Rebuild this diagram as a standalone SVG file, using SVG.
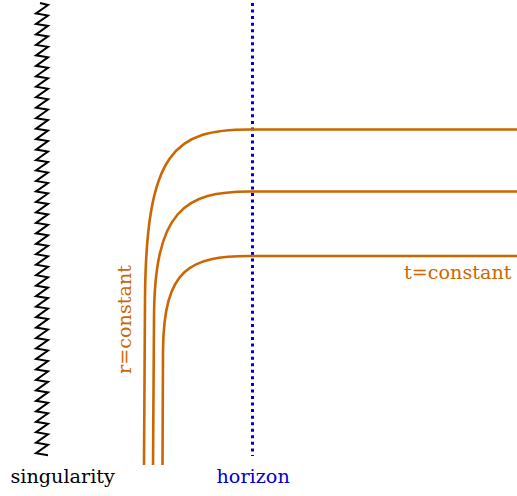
<svg xmlns="http://www.w3.org/2000/svg" width="517" height="496" viewBox="0 0 517 496">
<style>
.curve{fill:none;stroke:#CC6600;stroke-width:2.6}
.sing{fill:none;stroke:#000;stroke-width:2;stroke-linejoin:miter}
.hor{fill:none;stroke:#0000DD;stroke-width:3;stroke-dasharray:3 3.55}
text{font-family:"DejaVu Serif","Liberation Serif",serif;font-size:19.2px}
</style>
<rect width="517" height="496" fill="#fff"/>
<g id="singularity">
<path class="sing" d="M40,3 L48,5 l-12,8.47 12,2 -12,8.47 12,2 -12,8.47 12,2 -12,8.47 12,2 -12,8.47 12,2 -12,8.47 12,2 -12,8.47 12,2 -12,8.47 12,2 -12,8.47 12,2 -12,8.47 12,2 -12,8.47 12,2 -12,8.47 12,2 -12,8.47 12,2 -12,8.47 12,2 -12,8.47 12,2 -12,8.47 12,2 -12,8.47 12,2 -12,8.47 12,2 -12,8.47 12,2 -12,8.47 12,2 -12,8.47 12,2 -12,8.47 12,2 -12,8.47 12,2 -12,8.47 12,2 -12,8.47 12,2 -12,8.47 12,2 -12,8.47 12,2 -12,8.47 12,2 -12,8.47 12,2 -12,8.47 12,2 -12,8.47 12,2 -12,8.47 12,2 -12,8.47 12,2 -12,8.47 12,2 -12,8.47 12,2 -12,8.47 12,2 -12,8.47 12,2 -12,8.47 12,2 -12,8.47 12,2 -12,8.47 12,2 -12,8.47 12,2 -12,8.47 12,2 -12,8.47 12,2"/>
<text x="10.5" y="483" fill="#000">singularity</text>
</g>
<g id="horizon">
<line class="hor" x1="252.5" y1="3" x2="252.5" y2="456"/>
<text x="216.5" y="483" fill="#0000CC">horizon</text>
</g>
<g id="curves">
<path class="curve" d="M517,129.5 L250,129.5 C175,129.5 146,150 145,300 L144,465"/>
<path class="curve" d="M517,191.5 L250,191.5 C185,191.5 154,210 154,320 L153,465"/>
<path class="curve" d="M517,256 L250,256 C190,256 164,268 163,350 L162.5,465"/>
</g>
<g id="labels">
<text x="404" y="279" fill="#CC6600">t=constant</text>
<text transform="translate(131,374) rotate(-90)" fill="#CC6600">r=constant</text>
</g>
</svg>
